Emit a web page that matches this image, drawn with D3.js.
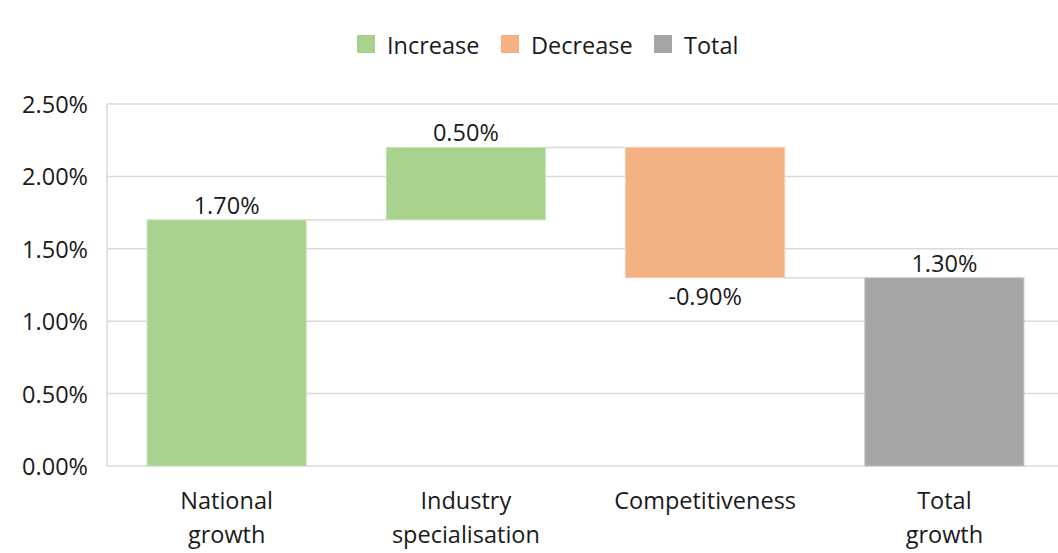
<!DOCTYPE html>
<html>
<head>
<meta charset="utf-8">
<script src="https://cdn.jsdelivr.net/npm/d3@7"></script>
<style>
  html, body { margin: 0; padding: 0; background: #fff; }
  svg { display: block; font-family: "Open Sans", sans-serif; }
</style>
</head>
<body>
<svg id="chart" width="1058" height="553"></svg>
<script>
// Waterfall components of growth
const categories = [["National", "growth"], ["Industry", "specialisation"], ["Competitiveness"], ["Total", "growth"]];
const changes = [1.70, 0.50, -0.90, 1.30];
const kinds = ["Increase", "Increase", "Decrease", "Total"];
const yTicks = [0, 0.5, 1.0, 1.5, 2.0, 2.5];
const legendItems = ["Increase", "Decrease", "Total"];

const colors = { Increase: "#a9d18e", Decrease: "#f4b183", Total: "#a5a5a5" };
const strokes = { Increase: "#c8e3b6", Decrease: "#f8cdaa", Total: "#c4c4c4" };
const textColor = "#1a1a1a";
const gridColor = "#d9d9d9";
const fontSize = 23.5;

const svg = d3.select("#chart");
const margin = { left: 107, top: 104, bottom: 466 };
const plotRight = 1064;

// Running totals: each step floats from the previous cumulative level
let running = 0;
const steps = changes.map((v, i) => {
  let lo, hi;
  if (kinds[i] === "Total") { lo = 0; hi = v; running = v; }
  else { const start = running; running += v; lo = Math.min(start, running); hi = Math.max(start, running); }
  return { i, v, kind: kinds[i], lo, hi, end: running };
});

const pct = d => d3.format(".2f")(d).replace("\u2212", "-") + "%";

const x = d3.scaleBand().domain(d3.range(categories.length))
  .range([margin.left, plotRight]).paddingInner(0.335).paddingOuter(0.1675);
const y = d3.scaleLinear().domain([0, 2.5]).range([margin.bottom, margin.top]);

// Gridlines
svg.append("g").selectAll("line").data(yTicks).join("line")
  .attr("x1", margin.left).attr("x2", plotRight)
  .attr("y1", d => y(d)).attr("y2", d => y(d))
  .attr("stroke", gridColor).attr("stroke-width", 1.5);
svg.append("line")
  .attr("x1", margin.left).attr("x2", margin.left)
  .attr("y1", y(2.5)).attr("y2", y(0))
  .attr("stroke", gridColor).attr("stroke-width", 1.5);

// Y axis labels
const yAxis = svg.append("g")
  .attr("transform", `translate(${margin.left},0)`)
  .call(d3.axisLeft(y).tickValues(yTicks).tickFormat(pct).tickSize(0).tickPadding(19));
yAxis.select(".domain").remove();
yAxis.selectAll("text").attr("font-size", fontSize).attr("fill", textColor)
  .attr("font-family", "Open Sans, sans-serif").attr("dy", "0.36em");

// Connectors between consecutive bars
svg.append("g").selectAll("line").data(steps.slice(0, -1)).join("line")
  .attr("x1", d => x(d.i) + x.bandwidth())
  .attr("x2", d => x(d.i + 1))
  .attr("y1", d => y(d.end)).attr("y2", d => y(d.end))
  .attr("stroke", gridColor).attr("stroke-width", 1.5);

// Bars
svg.append("g").selectAll("rect").data(steps).join("rect")
  .attr("x", d => x(d.i)).attr("width", x.bandwidth())
  .attr("y", d => y(d.hi)).attr("height", d => y(d.lo) - y(d.hi))
  .attr("fill", d => colors[d.kind])
  .attr("stroke", d => strokes[d.kind]).attr("stroke-width", 1);

// Value labels
svg.append("g").selectAll("text").data(steps).join("text")
  .attr("x", d => x(d.i) + x.bandwidth() / 2)
  .attr("y", d => d.v < 0 ? y(d.lo) + 27 : y(d.hi) - 6)
  .attr("text-anchor", "middle").attr("font-size", fontSize).attr("fill", textColor)
  .text(d => pct(d.v));

// Category labels
const cat = svg.append("g").selectAll("text").data(categories).join("text")
  .attr("text-anchor", "middle").attr("font-size", fontSize).attr("fill", textColor)
  .attr("x", (d, i) => x(i) + x.bandwidth() / 2).attr("y", 509);
cat.selectAll("tspan").data(d => d).join("tspan")
  .attr("x", function () { return d3.select(this.parentNode).attr("x"); })
  .attr("dy", (d, j) => j === 0 ? 0 : 34)
  .text(d => d);

// Legend
const legendX = [357, 501, 654];
const legend = svg.append("g").selectAll("g").data(legendItems).join("g")
  .attr("transform", (d, i) => `translate(${legendX[i]},35)`);
legend.append("rect").attr("width", 18).attr("height", 18).attr("fill", d => colors[d]);
legend.append("text").attr("x", 30).attr("y", 19)
  .attr("font-size", fontSize).attr("fill", textColor).text(d => d);
</script>
</body>
</html>
